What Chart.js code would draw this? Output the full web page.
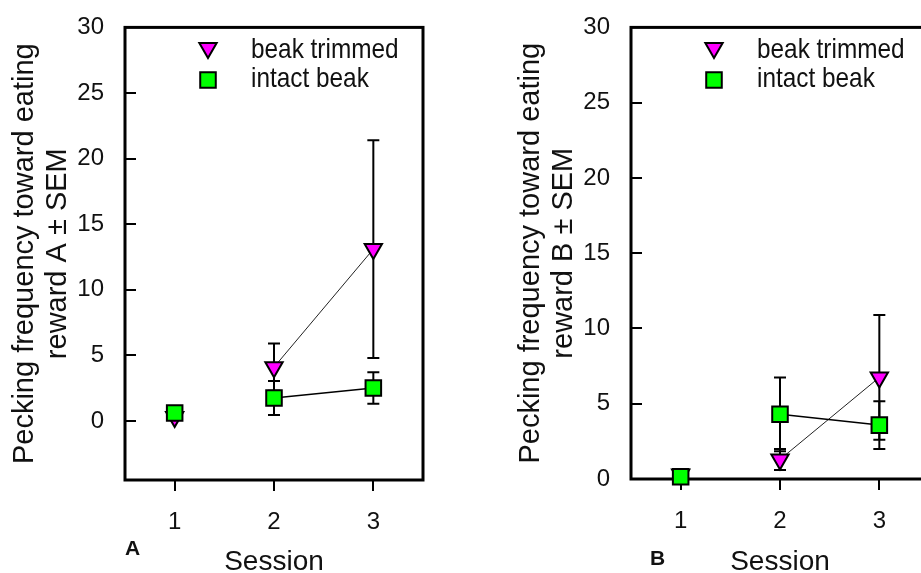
<!DOCTYPE html>
<html>
<head>
<meta charset="utf-8">
<script src="https://cdn.jsdelivr.net/npm/chart.js@4.4.1/dist/chart.umd.min.js"></script>
<style>
html,body{margin:0;padding:0;background:#fff;overflow:hidden;width:921px;height:573px;position:relative}
#cA{position:absolute;left:0;top:0}
#cB{position:absolute;left:460px;top:0}
</style>
</head>
<body>
<canvas id="cA" width="460" height="573"></canvas>
<canvas id="cB" width="520" height="573"></canvas>
<script>
// ---- data ----
const sessions = ['1', '2', '3'];
const yTickValues = [0, 5, 10, 15, 20, 25, 30];
const seriesNames = ['beak trimmed', 'intact beak'];

// Panel A (reward A)
const trimmedA = [0.3, 4.1, 13.1];
const trimmedSemA = [0, 1.8, 8.3];
const intactA = [0.6, 1.75, 2.52];
const intactSemA = [0, 1.3, 1.2];

// Panel B (reward B)
const trimmedB = [0.3, 1.3, 6.75];
const trimmedSemB = [0, 0.7, 4.15];
const intactB = [0.15, 4.3, 3.58];
const intactSemB = [0, 2.45, 1.58];

const FONT = "'Liberation Sans', Arial, sans-serif";
const TXT = '#111';
const SQ_R = 11;
const TRI_R = 10;

function drawTri(ctx, x, y, r) {
  ctx.beginPath();
  ctx.moveTo(x, y + r);
  ctx.lineTo(x - 0.866 * r, y - 0.5 * r);
  ctx.lineTo(x + 0.866 * r, y - 0.5 * r);
  ctx.closePath();
  ctx.fillStyle = '#ff00ff'; ctx.fill();
  ctx.lineWidth = 2; ctx.strokeStyle = '#000'; ctx.stroke();
}
function drawSq(ctx, x, y, r) {
  const s = r * Math.SQRT1_2;
  ctx.beginPath();
  ctx.rect(x - s, y - s, 2 * s, 2 * s);
  ctx.fillStyle = '#00ff00'; ctx.fill();
  ctx.lineWidth = 2; ctx.strokeStyle = '#000'; ctx.stroke();
}

const framePlugin = {
  id: 'frame',
  beforeDatasetsDraw(chart) {
    const {ctx, chartArea: a, scales: {x, y}} = chart;
    ctx.save();
    ctx.strokeStyle = '#000';
    // error bars
    chart.data.datasets.forEach(ds => {
      const sem = ds.sem;
      if (!sem) return;
      ctx.lineWidth = 2;
      ds.data.forEach((v, j) => {
        if (!sem[j]) return;
        const px = x.getPixelForValue(j);
        const top = y.getPixelForValue(v + sem[j]);
        const bot = y.getPixelForValue(v - sem[j]);
        ctx.beginPath();
        ctx.moveTo(px, top); ctx.lineTo(px, bot);
        ctx.moveTo(px - 6, top); ctx.lineTo(px + 6, top);
        ctx.moveTo(px - 6, bot); ctx.lineTo(px + 6, bot);
        ctx.stroke();
      });
    });
    // y ticks (inward)
    ctx.lineWidth = 2;
    y.ticks.forEach(t => {
      const py = Math.round(y.getPixelForValue(t.value));
      ctx.beginPath(); ctx.moveTo(a.left, py); ctx.lineTo(a.left + 11, py); ctx.stroke();
    });
    // x ticks (outward)
    x.ticks.forEach((t, i) => {
      const px = Math.round(x.getPixelForTick(i));
      ctx.beginPath(); ctx.moveTo(px, a.bottom); ctx.lineTo(px, a.bottom + 11); ctx.stroke();
    });
    // frame
    ctx.lineWidth = 3;
    ctx.strokeRect(a.left, a.top, a.right - a.left, a.bottom - a.top);
    ctx.restore();
  },
  afterDraw(chart, args, opts) {
    const {ctx, chartArea: a} = chart;
    ctx.save();
    // panel letter
    ctx.fillStyle = TXT;
    ctx.font = 'bold 21px ' + FONT;
    ctx.textBaseline = 'alphabetic';
    ctx.textAlign = 'left';
    ctx.fillText(opts.letter, opts.letterX, opts.letterY);
    // legend
    const mx = a.left + 83, tx = a.left + 126;
    drawTri(ctx, mx, 48, TRI_R);
    drawSq(ctx, mx, 80, SQ_R);
    ctx.fillStyle = TXT;
    ctx.font = '28px ' + FONT;
    [[seriesNames[0], 58], [seriesNames[1], 87]].forEach(([s, by]) => {
      ctx.save();
      ctx.translate(tx, by);
      ctx.scale(0.87, 1);
      ctx.fillText(s, 0, 0);
      ctx.restore();
    });
    ctx.restore();
  }
};

function makeChart(id, trimmed, trimmedSem, intact, intactSem, cfg) {
  return new Chart(document.getElementById(id), {
    type: 'line',
    data: {
      labels: sessions,
      datasets: [
        {
          label: seriesNames[1], data: intact, sem: intactSem, order: 1,
          borderColor: '#000', borderWidth: 1.5, tension: 0, clip: false,
          segment: {borderColor: c => c.p0DataIndex === 0 ? 'rgba(0,0,0,0)' : '#000'},
          pointStyle: 'rect', pointRadius: SQ_R, pointHoverRadius: SQ_R,
          pointBackgroundColor: '#00ff00', pointBorderColor: '#000', pointBorderWidth: 2
        },
        {
          label: seriesNames[0], data: trimmed, sem: trimmedSem, order: 2,
          borderColor: '#222', borderWidth: 1, tension: 0, clip: false,
          segment: {borderColor: c => c.p0DataIndex === 0 ? 'rgba(0,0,0,0)' : '#222'},
          pointStyle: 'triangle', pointRotation: 180, pointRadius: TRI_R, pointHoverRadius: TRI_R,
          pointBackgroundColor: '#ff00ff', pointBorderColor: '#000', pointBorderWidth: 2
        }
      ]
    },
    options: {
      responsive: false, animation: false, events: [],
      layout: {padding: cfg.padding},
      plugins: {legend: {display: false}, tooltip: {enabled: false}, frame: cfg.frame},
      scales: {
        x: {
          type: 'category', offset: true,
          grid: {display: false}, border: {display: false},
          ticks: {color: TXT, font: {family: FONT, size: 24}, padding: 20},
          title: {display: true, text: 'Session', color: TXT,
                  font: {family: FONT, size: 28, lineHeight: 1}, padding: {top: 0, bottom: -3}},
          afterFit: s => { s.height = cfg.xHeight; }
        },
        y: {
          min: cfg.yMin, max: 30,
          afterBuildTicks: s => { s.ticks = yTickValues.map(v => ({value: v})); },
          grid: {display: false}, border: {display: false},
          ticks: {color: TXT, font: {family: FONT, size: 24}, padding: 13},
          title: {display: true, text: ['Pecking frequency toward eating', cfg.yLine2], color: TXT,
                  font: {family: FONT, size: 29, lineHeight: 1.15}, padding: {top: 8, bottom: 0}},
          afterFit: s => { s.width = 125; }
        }
      }
    },
    plugins: [framePlugin]
  });
}

makeChart('cA', trimmedA, trimmedSemA, intactA, intactSemA, {
  yMin: -4.5, yLine2: 'reward A \u00B1 SEM', xHeight: 93,
  padding: {left: 0, top: 22, right: 37, bottom: 0},
  frame: {letter: 'A', letterX: 125, letterY: 555}
});
makeChart('cB', trimmedB, trimmedSemB, intactB, intactSemB, {
  yMin: 0, yLine2: 'reward B \u00B1 SEM', xHeight: 94,
  padding: {left: 46, top: 22, right: 51, bottom: 0},
  frame: {letter: 'B', letterX: 190, letterY: 565}
});
</script>
</body>
</html>
